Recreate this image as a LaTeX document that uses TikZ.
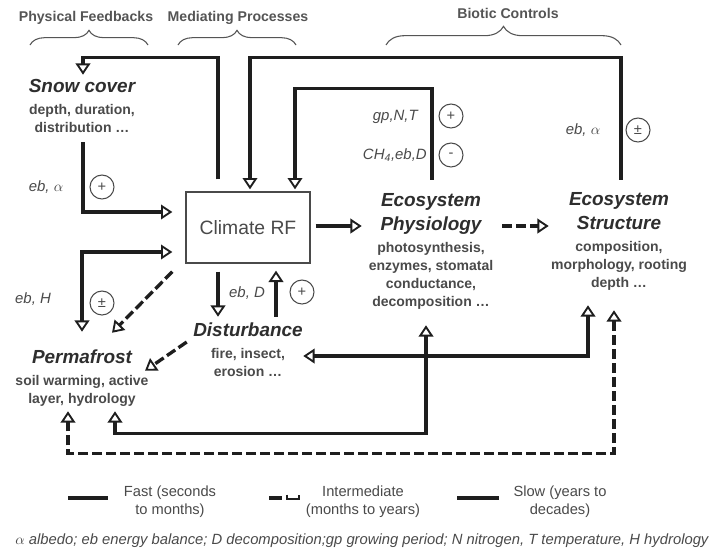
\documentclass[tikz,border=0pt]{standalone}
\usepackage{fontspec}
\setmainfont{Liberation Sans}
\usetikzlibrary{arrows.meta,calc,decorations.pathreplacing}
\definecolor{ink}{HTML}{1E1E1E}
\definecolor{ttl}{HTML}{2E2E2E}
\definecolor{bodyc}{HTML}{4A4A4A}
\definecolor{hdrc}{HTML}{555555}
\newcommand\ttlfont{\bfseries\itshape\fontsize{14.2}{17}\selectfont\color{ttl}}
\newcommand\bodyfnt{\bfseries\fontsize{10.5}{13.5}\selectfont}
\newcommand\lblfnt{\itshape\fontsize{11.2}{13}\selectfont}
\begin{document}
\begin{tikzpicture}[x=0.75pt,y=-0.75pt,
  >={Triangle[open,length=8.5pt,width=11pt,line width=1.4pt]},
  fast/.style={draw=ink,line width=2.5pt},
  inter/.style={fast,dash pattern=on 7.5pt off 3pt},
  block/.style={align=center,font=\bodyfnt,text=bodyc,inner sep=0pt},
  lbl/.style={font=\lblfnt,text=bodyc,inner sep=0pt},
  sgn/.style={circle,draw=bodyc,line width=0.8pt,minimum size=18pt,inner sep=0pt,font=\fontsize{11}{11}\selectfont,text=bodyc},
  hdr/.style={font=\bfseries\fontsize{10.6}{12}\selectfont,text=hdrc,inner sep=0pt},
  brc/.style={draw=hdrc,line width=0.8pt,decorate,decoration={brace,amplitude=11pt}},
  lgd/.style={align=center,font=\fontsize{11}{13.5}\selectfont,text=bodyc,inner sep=0pt}]
\fill[white] (0,0) rectangle (728,554);
\useasboundingbox (0,0) rectangle (728,554);

% headers
\node[hdr] (h1) at (86,18) {Physical Feedbacks};
\node[hdr] (h2) at (238,18) {Mediating Processes};
\node[hdr] (h3) at (508,13) {Biotic Controls};
\draw[brc] (30,45) -- (148,45);
\draw[brc] (178,45) -- (296,45);
\draw[brc,decoration={brace,amplitude=14pt}] (386,45) -- (621,45);

% main nodes
\node[draw=bodyc,line width=1pt,minimum width=93pt,minimum height=53.25pt,
      font=\fontsize{14.5}{17}\selectfont,text=bodyc] (climate) at (248,227.5) {Climate RF};
\node[block,minimum height=49.5pt] (snow) at (82,106)
  {{\ttlfont Snow cover}\\[2.5pt] depth, duration,\\ distribution …};
\node[block,minimum width=105pt,minimum height=109.5pt] (phys) at (431,251)
  {{\ttlfont Ecosystem}\\[4.5pt]{\ttlfont Physiology}\\[3pt] photosynthesis,\\ enzymes, stomatal\\ conductance,\\ decomposition …};
\node[block,minimum width=105pt,minimum height=93pt] (struct) at (619,241)
  {{\ttlfont Ecosystem}\\[4.5pt]{\ttlfont Structure}\\[3pt] composition,\\ morphology, rooting\\ depth …};
\node[block,minimum width=82.5pt,minimum height=49.5pt] (dist) at (248,350)
  {{\ttlfont Disturbance}\\[3pt] fire, insect,\\ erosion …};
\node[block,minimum height=48pt] (perma) at (82,378)
  {{\ttlfont Permafrost}\\[2.5pt] soil warming, active\\ layer, hydrology};

% labels and signs
\node[lbl] (l1) at (46,187) {eb, $\alpha$};
\node[sgn] (s1) at (102,187) {+};
\node[lbl,anchor=east] (l2) at (418,117) {gp,N,T};
\node[sgn] (s2) at (451,116) {+};
\node[lbl,anchor=east] (l3) at (427,155) {CH\textsubscript{4},eb,D};
\node[sgn] (s3) at (451,155) {-};
\node[lbl] (l4) at (583,130) {eb, $\alpha$};
\node[sgn] (s4) at (638,130) {±};
\node[lbl] (l5) at (33,299) {eb, H};
\node[sgn] (s5) at (102,303) {±};
\node[lbl] (l6) at (247,293) {eb, D};
\node[sgn] (s6) at (302,292) {+};

% connectors
\draw[fast,->] ($(climate.north)+(-30,-12)$) |- ($(snow.north)+(1,-15)$) -- ($(snow.north)+(1,2)$);
\draw[fast,->] ($(struct.north)+(2,1)$) |- ($(climate.north)+(2,-134)$) -- ($(climate.north)+(2,-2)$);
\draw[fast,->] ($(phys.north)+(1,2)$) |- ($(climate.north)+(47,-103)$) -- ($(climate.north)+(47,-2)$);
\draw[fast,->] ($(snow.south)+(1,3)$) |- ($(climate.west)+(-13,-15.5)$);
\draw[fast,<->] ($(climate.west)+(-13,24.5)$) -| ($(perma.north)+(0,-14)$);
\draw[inter,->] ($(climate.south west)+(-13,8)$) -- ($(perma.north)+(30,-13)$);
\draw[fast,->] ($(climate.south)+(-30,8)$) -- ($(dist.north)+(-30,0)$);
\draw[fast,->] ($(dist.north)+(28,0)$) -- ($(climate.south)+(28,7)$);
\draw[fast,->] ($(climate.east)+(5,-1.5)$) -- ($(phys.west)+(1,-25)$);
\draw[inter,->] ($(phys.east)+(1,-25)$) -- ($(struct.west)+(0,-15)$);
\draw[fast,<->] ($(struct.south)+(-31,2)$) |- ($(dist.east)+(0,6)$);
\draw[fast,<->] ($(phys.south)+(-5,1)$) |- ($(perma.south)+(33,23)$) -- ($(perma.south)+(33,1)$);
\draw[inter,<->] ($(struct.south)+(-5,7)$) |- ($(perma.south)+(-14,43)$) -- ($(perma.south)+(-14,1)$);
\draw[inter,->] ($(dist.west)+(-6,-8)$) -- ($(perma.north)+(63,25)$);

% legend
\draw[fast] (68,498) -- (108,498);
\node[lgd] (lg1) at (170,502) {Fast (seconds\\to months)};
\draw[fast] (269,498) -- (282,498);
\draw[draw=ink,line width=0.8pt] (287,494.5) -- (287,499) -- (299,499) -- (299,494.5);
\node[lgd] (lg2) at (363,502) {Intermediate\\(months to years)};
\draw[fast] (457,498) -- (499,498);
\node[lgd] (lg3) at (560,502) {Slow (years to\\decades)};
\node[font=\itshape\fontsize{11.1}{12}\selectfont,text=bodyc,inner sep=0pt] (cap) at (362,541)
  {$\alpha$ albedo; eb energy balance; D decomposition;gp growing period; N nitrogen, T temperature, H hydrology};
\end{tikzpicture}
\end{document}
